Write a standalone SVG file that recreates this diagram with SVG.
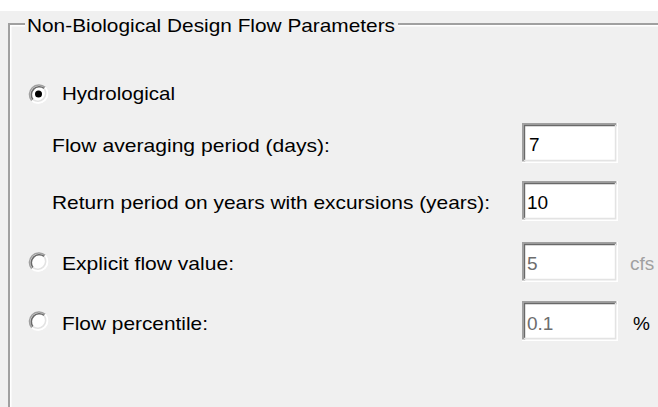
<svg xmlns="http://www.w3.org/2000/svg" width="658" height="407" viewBox="0 0 658 407">
<defs>
<style>
text{font-family:"Liberation Sans",Arial,sans-serif;font-size:19px;fill:#000}
.dis{fill:#6d6d6d}
.lbl{fill:#a0a0a0}
.etch-d{stroke:#a0a0a0;stroke-width:2;fill:none}
.etch-l{stroke:#ffffff;stroke-width:1.5;fill:none}
</style>
<g id="radio">
<circle cx="0" cy="0" r="9.5" fill="#ffffff"/>
<path d="M-6.7,6.7 A9.5,9.5 0 0 1 6.7,-6.7" stroke="#a0a0a0" stroke-width="1.6" fill="none"/>
<path d="M-5.6,5.6 A8,8 0 0 1 5.6,-5.6" stroke="#696969" stroke-width="1.6" fill="none"/>
<path d="M6.7,-6.7 A9.5,9.5 0 0 1 -6.7,6.7" stroke="#ffffff" stroke-width="1.6" fill="none"/>
<path d="M5.6,-5.6 A8,8 0 0 1 -5.6,5.6" stroke="#e3e3e3" stroke-width="1.6" fill="none"/>
</g>
<g id="tbox">
<rect x="0" y="0" width="96" height="40" fill="#ffffff"/>
<path d="M0.8,40 V0.8 H96" stroke="#a0a0a0" stroke-width="1.6" fill="none"/>
<path d="M2.4,39 V2.4 H95" stroke="#696969" stroke-width="1.6" fill="none"/>
<path d="M0,39.2 H95.2 V0" stroke="#ffffff" stroke-width="1.6" fill="none"/>
<path d="M2,37.6 H93.6 V2" stroke="#e3e3e3" stroke-width="1.6" fill="none"/>
</g>
</defs>
<rect x="0" y="0" width="658" height="407" fill="#ffffff"/>
<rect x="0" y="11" width="658" height="396" fill="#f0f0f0"/>

<g id="groupbox">
<path class="etch-d" d="M9,407 V24 H25 M398,24 H658"/>
<path class="etch-l" d="M10.8,407 V25.8 H25 M398,25.8 H658"/>
<text x="27" y="32" textLength="368" lengthAdjust="spacingAndGlyphs">Non-Biological Design Flow Parameters</text>
</g>

<g id="opt-hydrological">
<use href="#radio" x="38.5" y="94"/>
<circle cx="38.5" cy="94" r="3.5" fill="#000"/>
<text x="62" y="100" textLength="113" lengthAdjust="spacingAndGlyphs">Hydrological</text>
</g>

<g id="flow-averaging">
<text x="52" y="152" textLength="278" lengthAdjust="spacingAndGlyphs">Flow averaging period (days):</text>
<use href="#tbox" x="522" y="123"/>
<text x="529" y="151">7</text>
</g>

<g id="return-period">
<text x="52" y="209" textLength="438" lengthAdjust="spacingAndGlyphs">Return period on years with excursions (years):</text>
<use href="#tbox" x="522" y="181"/>
<text x="527" y="209">10</text>
</g>

<g id="opt-explicit">
<use href="#radio" x="38.5" y="262"/>
<text x="62" y="270" textLength="172" lengthAdjust="spacingAndGlyphs">Explicit flow value:</text>
<use href="#tbox" x="522" y="242"/>
<text class="dis" x="527" y="270">5</text>
<text class="lbl" x="630" y="270">cfs</text>
</g>

<g id="opt-percentile">
<use href="#radio" x="38.5" y="321"/>
<text x="62" y="330" textLength="146" lengthAdjust="spacingAndGlyphs">Flow percentile:</text>
<use href="#tbox" x="522" y="301"/>
<text class="dis" x="527" y="330">0.1</text>
<text x="633" y="330">%</text>
</g>

<g id="connectors"></g>
</svg>
